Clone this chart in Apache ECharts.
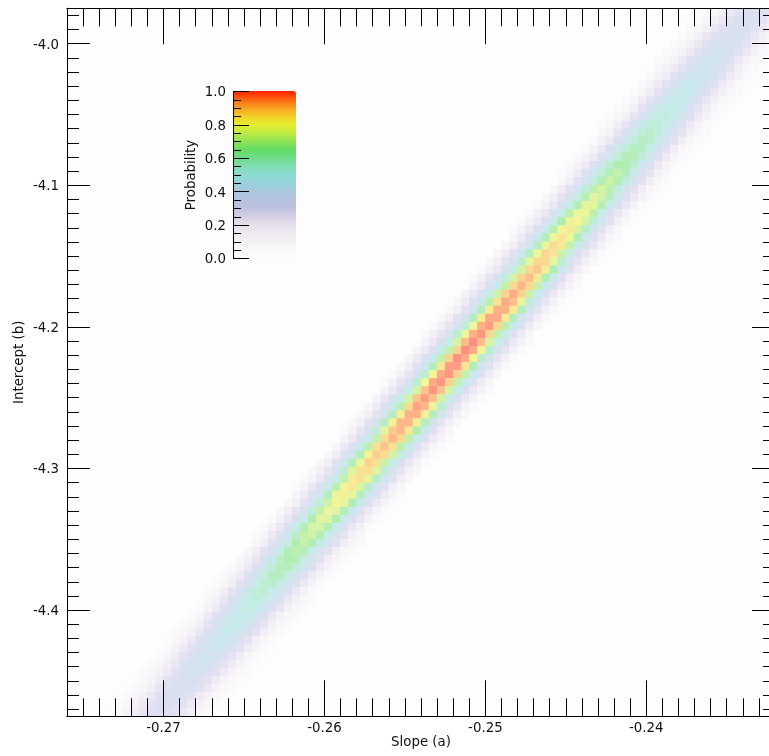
<!DOCTYPE html>
<html><head><meta charset="utf-8">
<style>html,body{margin:0;padding:0;background:#fff;overflow:hidden}#c{width:769px;height:756px}</style>
<script src="https://cdn.jsdelivr.net/npm/echarts@6/dist/echarts.min.js"></script>
</head><body><div id="c"></div>
<script>
// Probability (percent) read per image row, top row first; rowStart = first coloured column of that row
const rowStart = [78,77,77,76,75,74,73,72,72,71,70,69,68,67,66,66,65,64,63,62,61,61,60,59,58,57,56,55,55,54,53,52,51,50,50,49,48,47,46,45,44,44,43,42,41,40,39,39,38,37,36,35,34,34,33,32,31,30,29,28,28,27,26,25,24,23,23,22,21,20,19,18,17,17,16,15,14,13,12,12,11,10,9,8,7,6,6,5];
const rowValues = [
[1,2,5,10,16,22,26,27,24,19,13,7,4,2],
[1,3,6,10,17,23,28,29,26,20,13,8,4,2],
[2,5,10,16,23,29,31,29,23,16,10,5,2,1],
[2,5,10,17,24,30,33,30,24,17,10,5,2,1],
[2,4,9,16,24,31,34,33,28,20,12,7,3,1],
[2,4,8,15,23,31,36,36,31,23,15,8,4,2],
[2,4,8,15,24,33,38,38,33,24,15,8,4,2],
[1,4,8,14,23,32,39,40,36,28,19,11,5,2],
[3,7,13,22,31,40,43,40,31,22,13,7,3,1],
[3,7,14,23,33,41,45,41,33,23,14,7,3,1],
[3,6,12,21,32,42,46,45,37,27,16,9,4,2],
[3,6,13,22,34,43,49,47,39,28,17,9,4,2],
[2,5,11,20,32,43,50,50,43,32,20,11,5,2],
[2,5,10,19,30,43,51,53,47,37,25,14,7,3],
[2,5,11,19,32,44,53,55,49,38,26,14,7,3],
[4,9,18,29,43,54,58,54,43,29,18,9,4,2],
[3,8,16,28,41,53,60,58,48,34,21,11,5,2],
[3,8,16,29,43,55,62,60,50,35,22,12,5,2],
[3,7,14,26,41,55,63,63,55,41,26,14,7,3],
[3,7,15,27,42,57,65,65,57,42,27,15,7,3],
[2,6,13,24,39,55,66,69,61,48,32,18,9,4],
[5,11,22,36,53,66,71,66,53,36,22,11,5,2],
[5,12,23,37,54,68,73,68,54,37,23,12,5,2],
[4,10,20,35,52,67,75,72,60,43,26,14,7,3],
[3,8,17,31,49,66,76,76,66,49,31,17,8,3],
[3,9,17,32,50,68,78,78,68,50,32,17,9,3],
[3,7,15,29,46,65,78,81,73,56,37,21,11,4],
[3,7,16,29,48,67,80,83,74,58,38,22,11,5],
[6,14,26,43,63,79,85,79,63,43,26,14,6,3],
[5,11,23,40,60,77,87,84,70,50,30,17,8,3],
[5,12,23,41,61,79,88,85,71,51,31,17,8,3],
[4,10,20,36,57,77,88,88,77,57,36,20,10,4],
[3,8,17,32,52,73,88,91,82,63,42,24,12,5],
[3,8,18,33,53,74,89,93,83,64,43,24,12,5],
[7,15,29,48,70,88,94,88,70,48,29,15,7,3],
[7,15,30,49,71,89,96,89,71,49,30,15,7,3],
[5,13,25,44,67,86,96,93,77,55,34,18,8,3],
[4,10,21,39,61,83,95,95,83,61,39,21,10,4],
[4,11,22,39,62,83,96,96,83,62,39,22,11,4],
[3,9,19,35,56,79,95,98,88,68,45,26,13,5],
[3,9,19,35,57,79,95,99,88,69,46,26,13,5],
[7,16,31,51,74,93,100,93,74,51,31,16,7,3],
[6,13,26,46,69,89,100,96,80,57,35,19,9,3],
[6,13,26,46,69,89,100,96,80,57,35,19,9,3],
[4,11,22,40,63,85,98,98,85,63,40,22,11,4],
[3,9,19,35,57,80,96,99,89,69,46,26,13,5],
[3,9,19,35,57,80,96,99,89,69,46,26,13,5],
[7,16,31,50,73,92,99,92,73,50,31,16,7,3],
[7,16,31,50,73,92,98,92,73,50,31,16,7,3],
[5,13,25,45,67,87,97,94,78,56,34,19,8,3],
[4,10,21,39,61,82,95,95,82,61,39,21,10,4],
[4,10,21,38,60,82,94,94,82,60,38,21,10,4],
[3,8,18,33,54,76,91,94,84,65,44,25,12,5],
[7,15,29,48,69,87,94,87,69,48,29,15,7,3],
[6,15,29,47,68,86,92,86,68,47,29,15,6,3],
[5,12,24,42,63,81,90,87,73,52,32,17,8,3],
[5,12,23,41,62,79,89,86,71,51,31,17,8,3],
[4,9,19,35,55,75,86,86,75,55,35,19,9,4],
[3,7,16,30,49,69,83,86,77,59,40,22,11,5],
[3,7,16,29,48,67,81,84,75,58,39,22,11,5],
[6,13,26,42,61,77,82,77,61,42,26,13,6,2],
[4,10,21,37,55,71,80,77,64,46,28,15,7,3],
[4,10,20,36,54,70,78,75,63,45,27,15,7,3],
[3,8,17,31,48,65,75,75,65,48,31,17,8,3],
[3,8,16,30,47,63,73,73,63,47,30,16,8,3],
[2,6,14,25,41,58,69,72,64,50,33,19,9,4],
[5,11,22,36,52,65,70,65,52,36,22,11,5,2],
[5,11,21,34,50,63,68,63,50,34,21,11,5,2],
[4,9,17,30,45,58,65,63,52,37,23,12,6,2],
[3,7,14,25,40,54,62,62,54,40,25,14,7,3],
[3,7,13,24,38,52,60,60,52,38,24,13,7,3],
[2,5,11,21,33,47,56,58,52,40,27,15,8,3],
[2,5,11,20,32,45,54,56,50,39,26,15,7,3],
[4,9,17,28,40,50,54,50,40,28,17,9,4,2],
[3,7,13,24,36,46,52,50,42,30,18,10,5,2],
[3,6,13,23,34,44,49,48,40,28,17,9,4,2],
[2,5,10,19,30,40,47,47,40,30,19,10,5,2],
[2,4,9,16,26,36,44,45,40,31,21,12,6,2],
[1,4,8,15,25,35,42,43,39,30,20,11,6,2],
[3,7,13,21,30,38,41,38,30,21,13,7,3,1],
[3,6,12,20,29,36,39,36,29,20,12,6,3,1],
[2,5,10,17,26,33,37,36,30,21,13,7,3,1],
[2,4,8,14,22,30,35,35,30,22,14,8,4,2],
[1,4,7,13,21,28,33,33,28,21,13,7,4,1],
[1,3,6,11,18,25,30,32,28,22,15,8,4,2],
[1,3,6,10,17,24,29,30,27,21,14,8,4,2],
[2,5,9,14,21,26,28,26,21,14,9,5,2,1],
[1,3,7,12,18,24,26,26,21,15,9,5,2,1]
];
const barStops = ['#fdfdfd','#f9f8f9','#f3f0f3','#eee8ef','#e6dfea','#d4cee4','#bfc1e0','#b6c2df','#a8c8dd','#97d2dc','#8cdcd2','#80dcb0','#70dc88','#64dc64','#90e455','#c0ea40','#e8ee30','#f4cc28','#f8a020','#fc6410','#ff2000'];
const cellStops = ['#fdfdfd','#f8f6f9','#f3eff6','#ede8f3','#e5e2f1','#dee0f0','#d9e0f0','#d5e2ef','#cfe6ee','#c8e9ec','#c5ede8','#bfedd7','#b7edc3','#b1edb1','#c7f1aa','#dff4a0','#f3f697','#f9e593','#fbcf8f','#fdb187','#ff8f80'];
const xMajor = [-0.27,-0.26,-0.25,-0.24];
const yMajor = [-4.4,-4.3,-4.2,-4.1,-4.0];
const xMinor = [-0.275,-0.274,-0.273,-0.272,-0.271,-0.27,-0.269,-0.268,-0.267,-0.266,-0.265,-0.264,-0.263,-0.262,-0.261,-0.26,-0.259,-0.258,-0.257,-0.256,-0.255,-0.254,-0.253,-0.252,-0.251,-0.25,-0.249,-0.248,-0.247,-0.246,-0.245,-0.244,-0.243,-0.242,-0.241,-0.24,-0.239,-0.238,-0.237,-0.236,-0.235,-0.234,-0.233];
const yMinor = [-4.47,-4.46,-4.45,-4.44,-4.43,-4.42,-4.41,-4.4,-4.39,-4.38,-4.37,-4.36,-4.35,-4.34,-4.33,-4.32,-4.31,-4.3,-4.29,-4.28,-4.27,-4.26,-4.25,-4.24,-4.23,-4.22,-4.21,-4.2,-4.19,-4.18,-4.17,-4.16,-4.15,-4.14,-4.13,-4.12,-4.11,-4.1,-4.09,-4.08,-4.07,-4.06,-4.05,-4.04,-4.03,-4.02,-4.01,-4.0,-3.99,-3.98];

const FONT = 'DejaVu Sans', FS = 13.33, INK = '#000';
const GRID = {left: 67, top: 8.3, width: 708, height: 708, outerBoundsMode:'none', containLabel:false};
const cols = Array.from({length: 88}, (_, i) => i), rows = cols.slice();
const cells = [];
rowValues.forEach((vals, r) => vals.forEach((v, k) => { const c = rowStart[r] + k; if (c < 88) cells.push([c, r, v]); }));

const hiddenCat = (data, gi, extra) => Object.assign({type:'category', data, gridIndex:gi, show:false}, extra||{});
const line = {show:true, onZero:false, lineStyle:{color:INK, width:1}};
const lab = {color:'#111', fontFamily:FONT, fontSize:FS};
const xAx = (gi, pos, ticks, len, labels, name) => ({
  type:'value', gridIndex:gi, position:pos, min:-0.276, max:-0.232, z:5, silent:true,
  axisLine:line, splitLine:{show:false},
  axisTick:{show:true, inside:true, length:len, customValues:ticks, lineStyle:{color:INK, width:1}},
  axisLabel: labels ? Object.assign({show:true, margin:6, customValues:labels, formatter:v=>v.toFixed(2)}, lab) : {show:false},
  name: name||'', nameLocation:'middle', nameGap:20, nameMoveOverlap:false, nameTextStyle:{color:'#111', fontFamily:FONT, fontSize:FS}
});
const yAx = (gi, pos, ticks, len, labels, name) => ({
  type:'value', gridIndex:gi, position:pos, min:-4.475, max:-3.975, z:5, silent:true,
  axisLine:line, splitLine:{show:false},
  axisTick:{show:true, inside:true, length:len, customValues:ticks, lineStyle:{color:INK, width:1}},
  axisLabel: labels ? Object.assign({show:true, margin:8, verticalAlign:'top', lineHeight:3, customValues:labels, formatter:v=>v.toFixed(1)}, lab) : {show:false},
  name: name||'', nameLocation:'middle', nameGap:41, nameMoveOverlap:false, nameTextStyle:{color:'#111', fontFamily:FONT, fontSize:FS}
});

const chart = echarts.init(document.getElementById('c'), null, {renderer:'canvas'});
chart.setOption({
  animation:false, backgroundColor:'#fff',
  grid:[
    Object.assign({show:true, backgroundColor:'#fdfdfd', borderWidth:0}, GRID),
    Object.assign({}, GRID),
    Object.assign({}, GRID),
    {left:233, top:91.5, width:63, height:167, outerBoundsMode:'none'}
  ],
  xAxis:[
    hiddenCat(cols,0),
    xAx(1,'bottom',xMajor,36,xMajor,'Slope (a)'),
    xAx(1,'top',xMajor,36),
    xAx(2,'bottom',xMinor,18),
    xAx(2,'top',xMinor,18),
    {type:'value', gridIndex:3, show:false, min:0, max:1}
  ],
  yAxis:[
    hiddenCat(rows,0,{inverse:true}),
    yAx(1,'left',yMajor,23,yMajor,'Intercept (b)'),
    yAx(1,'right',yMajor,23),
    yAx(2,'left',yMinor,12),
    yAx(2,'right',yMinor,12),
    {type:'value', gridIndex:3, position:'left', min:0, max:1, interval:0.2, z:10, silent:true,
     axisLine:line, splitLine:{show:false},
     axisTick:{show:true, inside:true, length:16, lineStyle:{color:INK, width:1}},
     minorTick:{show:true, splitNumber:4, length:8, lineStyle:{color:INK, width:1}},
     axisLabel:Object.assign({show:true, margin:7, verticalAlign:'top', lineHeight:3, formatter:v=>v.toFixed(1)}, lab),
     name:'Probability', nameLocation:'middle', nameGap:35, nameMoveOverlap:false,
     nameTextStyle:{color:'#111', fontFamily:FONT, fontSize:FS}}
  ],
  visualMap:[
    {type:'continuous', show:false, min:0, max:100, seriesIndex:0, inRange:{color:cellStops}},
    {type:'continuous', show:true, seriesIndex:[], min:0, max:100, left:233, top:91, itemWidth:63, itemHeight:167,
     padding:0, calculable:false, showLabel:false, text:null, hoverLink:false, inRange:{color:barStops}, z:2}
  ],
  series:[{type:'heatmap', xAxisIndex:0, yAxisIndex:0, data:cells, silent:true, progressive:0,
           itemStyle:{borderWidth:0}, emphasis:{disabled:true}}]
});
</script></body></html>
